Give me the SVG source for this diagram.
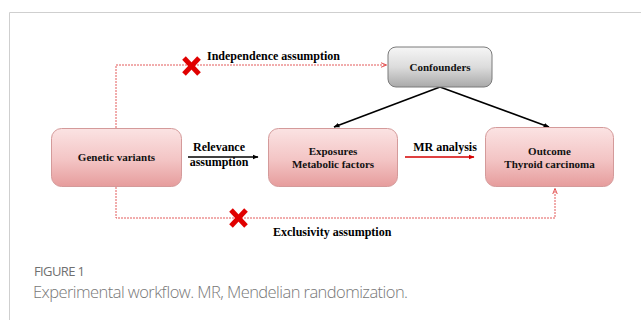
<svg xmlns="http://www.w3.org/2000/svg" width="641" height="320" viewBox="0 0 641 320">
<defs>
<linearGradient id="pink" x1="0" y1="0" x2="0" y2="1">
<stop offset="0" stop-color="#fbe3e3"/>
<stop offset="0.55" stop-color="#f3c4c4"/>
<stop offset="1" stop-color="#e69c9c"/>
</linearGradient>
<linearGradient id="gray" x1="0" y1="0" x2="0" y2="1">
<stop offset="0" stop-color="#f6f6f6"/>
<stop offset="0.5" stop-color="#dcdcdc"/>
<stop offset="1" stop-color="#a9a9a9"/>
</linearGradient>
<marker id="ab" viewBox="0 0 10 10" refX="9" refY="5" markerWidth="6" markerHeight="6" orient="auto" markerUnits="userSpaceOnUse">
<path d="M0,1 L10,5 L0,9 Z" fill="#000"/>
</marker>
<marker id="ar" viewBox="0 0 10 10" refX="9" refY="5" markerWidth="6" markerHeight="6" orient="auto" markerUnits="userSpaceOnUse">
<path d="M0,1 L10,5 L0,9 Z" fill="#d40000"/>
</marker>
<marker id="ard" viewBox="0 0 10 10" refX="9" refY="5" markerWidth="6" markerHeight="6" orient="auto" markerUnits="userSpaceOnUse">
<path d="M0,1 L10,5 L0,9" fill="none" stroke="#e04040" stroke-width="1.5"/>
</marker>
</defs>
<style>
.box{fill:url(#pink);stroke:#d49a9a;stroke-width:1}
.gbox{fill:url(#gray);stroke:#7a7a7a;stroke-width:1}
.t{font-family:"Liberation Serif",serif;font-weight:bold;font-size:11px;fill:#111;text-anchor:middle}
.lab{font-family:"Liberation Serif",serif;font-weight:bold;font-size:12px;fill:#000}
.dash{fill:none;stroke:#e04848;stroke-width:0.9;stroke-dasharray:2,1}
.blk{fill:none;stroke:#000;stroke-width:1.6}
.red{fill:none;stroke:#d40000;stroke-width:1.6}
.x{stroke:#e00000;stroke-width:5}
.cap1{font-family:"Open Sans",sans-serif;font-size:13px;fill:#707070}
.cap2{font-family:"Open Sans",sans-serif;font-size:16.5px;fill:#777;font-weight:300}
</style>
<rect x="0" y="0" width="641" height="320" fill="#fff"/>
<path d="M9.5,320 V12.5 H641" fill="none" stroke="#cfcfcf" stroke-width="1"/>

<g id="connectors">
<path class="dash" d="M116,128 V65 H386" marker-end="url(#ard)"/>
<path class="dash" d="M116,187 V218 H555 V189" marker-end="url(#ard)"/>
<line class="blk" x1="440" y1="87" x2="334" y2="127" marker-end="url(#ab)"/>
<line class="blk" x1="440" y1="87" x2="549" y2="127" marker-end="url(#ab)"/>
<line class="blk" x1="188" y1="157" x2="258" y2="157" stroke-width="1.4" marker-end="url(#ab)"/>
<line class="red" x1="405" y1="157" x2="474" y2="157" marker-end="url(#ar)"/>
</g>

<g id="x1">
<line class="x" x1="184" y1="58" x2="199" y2="74"/>
<line class="x" x1="199" y1="58" x2="184" y2="74"/>
</g>
<g id="x2">
<line class="x" x1="231" y1="210" x2="246" y2="226"/>
<line class="x" x1="246" y1="210" x2="231" y2="226"/>
</g>

<g id="labels">
<text class="lab" x="207" y="60">Independence assumption</text>
<text class="lab" x="219" y="151" text-anchor="middle">Relevance</text>
<text class="lab" x="219" y="166" text-anchor="middle">assumption</text>
<text class="lab" x="445" y="151" text-anchor="middle">MR analysis</text>
<text class="lab" x="273" y="236">Exclusivity assumption</text>
</g>

<g id="confounders">
<rect class="gbox" x="388" y="47" width="104" height="40" rx="8"/>
<text class="t" x="440" y="71">Confounders</text>
</g>
<g id="genetic">
<rect class="box" x="51.5" y="128.5" width="130" height="58" rx="10"/>
<text class="t" x="116.5" y="161">Genetic variants</text>
</g>
<g id="exposures">
<rect class="box" x="268.5" y="128.5" width="129" height="58" rx="10"/>
<text class="t" x="333" y="155">Exposures</text>
<text class="t" x="333" y="168">Metabolic factors</text>
</g>
<g id="outcome">
<rect class="box" x="485.5" y="127.5" width="128" height="59" rx="10"/>
<text class="t" x="549.5" y="155">Outcome</text>
<text class="t" x="549.5" y="168">Thyroid carcinoma</text>
</g>

<g id="caption">
<text class="cap1" x="34" y="276" textLength="51">FIGURE 1</text>
<text class="cap2" x="33" y="298" textLength="375">Experimental workflow. MR, Mendelian randomization.</text>
</g>
</svg>
